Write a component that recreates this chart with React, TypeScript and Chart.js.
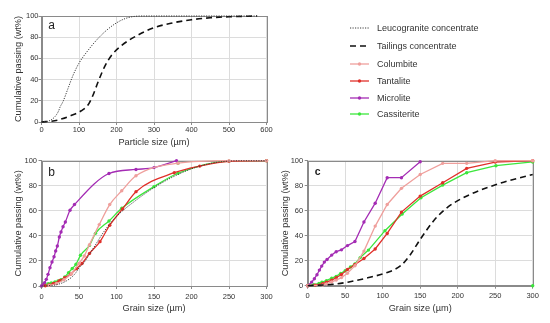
import React, { useEffect, useRef } from 'react';
import { Chart, registerables } from 'chart.js';
Chart.register(...registerables);

const FONT = "'Liberation Sans', Arial, Helvetica, sans-serif";

// ---------- Panel a (particle size, µm) ----------
const leucoSize = [0, 10, 20, 35, 45, 50, 57, 70, 84, 100, 125, 150, 175, 200, 225, 250, 275, 300, 400, 500, 575];
const leucoPass = [0, 0.3, 1, 4.7, 10, 14.5, 19, 31, 44, 55.5, 68, 78.5, 87, 93.5, 97.8, 99.7, 100, 100, 100, 100, 100];
const tailSize = [0, 35, 55, 80, 106, 124, 137, 150, 168, 186, 213, 257, 300, 350, 400, 450, 500, 575];
const tailPass = [0, 1.2, 3, 6.3, 10.6, 16, 25, 37, 52, 62.5, 72, 82, 89, 93.5, 96.5, 98.3, 99.3, 100];

// ---------- Panel b (grain size, leucogranite concentrate) ----------
const colBx = [10, 20, 30, 40, 50, 57, 64, 77, 91, 107, 126, 182, 250, 300];
const colBy = [0.5, 2, 5, 10, 18, 24, 33, 49, 65, 76, 88, 98, 100, 100];
const tanBx = [5, 10, 16, 24, 31, 39, 47, 54, 64, 78, 91, 108, 126, 177, 211, 250, 300];
const tanBy = [0.2, 0.8, 2.1, 4.3, 6.6, 9.6, 14, 18, 26, 35.4, 48.5, 61.5, 75.3, 90.4, 95.7, 99.5, 100];
const micBx = [0, 2, 4.2, 6.4, 8.7, 11.3, 14, 16.7, 18.9, 21.1, 23.8, 26, 28.7, 31.8, 38, 44, 90, 126, 150, 180];
const micBy = [0, 1, 2.7, 5.3, 9.3, 14.6, 19.1, 23.4, 27.9, 31.9, 39.1, 43.1, 47.3, 51.1, 60.4, 65, 89.8, 93, 94.5, 100];
const casBx = [0, 4, 9, 13, 18, 22, 26, 31, 36, 41, 46, 52, 64, 72, 90, 107, 150, 182, 250, 300];
const casBy = [0, 0.8, 1.9, 2.4, 3.2, 4, 5, 7.2, 10.6, 14, 17.3, 24.5, 32.4, 42, 51.9, 62, 79.3, 90, 99.7, 100];
const casBextraX = [182];
const casBextraY = [98];

// ---------- Panel c (grain size, tailings concentrate) ----------
const colCx = [0, 20, 25, 32, 38, 45, 53, 63, 75, 90, 106, 125, 150, 180, 212, 250, 300];
const colCy = [0, 0.5, 1.5, 3, 4.5, 6.5, 10, 16, 27.7, 47.7, 65, 77.9, 89, 97.9, 97.9, 100, 100];
const tanCx = [0, 10, 20, 25, 32, 38, 45, 53, 63, 75, 90, 106, 125, 150, 180, 212, 250, 300];
const tanCy = [0, 0.5, 1.6, 2.9, 4.5, 6.4, 9, 13, 17, 21.8, 29.4, 41.8, 58.9, 71.7, 82.4, 93.9, 98.9, 100];
const micCx = [0, 5.3, 8.9, 12.4, 15.6, 18.7, 22.2, 25.8, 32, 38, 45, 53, 63, 75, 90, 106, 125, 150];
const micCy = [0, 2.9, 5.6, 8.8, 12.5, 15.7, 18.9, 21, 24.5, 27.2, 28.7, 32.1, 35.4, 51, 66, 86.4, 86.4, 99.2];
const casCx = [0, 8, 15, 19, 25, 32, 38, 44, 50, 57, 63, 70, 81, 103, 126, 151, 180, 212, 251, 300];
const casCy = [0, 0.8, 1.8, 2.9, 4, 6, 7.5, 9.9, 12, 15, 17.5, 22.5, 28.5, 44, 57.3, 70.4, 80.5, 90.4, 96, 99];
const casCextraX = [300];
const casCextraY = [0];

const yTicks = { min: 0, max: 100, step: 20 };
const legendLabels = ['Leucogranite concentrate', 'Tailings concentrate', 'Columbite', 'Tantalite', 'Microlite', 'Cassiterite'];

const STY = {
  leuco: { color: '#3a3a3a', width: 1, dash: [1.2, 1.3] },
  tail: { color: '#111111', width: 1.6, dash: [6, 4] },
  col: { color: '#ef9f9c', width: 1.3 },
  tan: { color: '#e0302a', width: 1.3 },
  mic: { color: '#a42cb4', width: 1.3 },
  cas: { color: '#3ce63c', width: 1.3 },
};

const pts = (xs: number[], ys: number[], xMax: number) =>
  xs.map((x, i) => ({ x, y: ys[i] })).filter((p) => p.x <= xMax);

function ds(xs: number[], ys: number[], xMax: number, st: any, marker: boolean, smooth: boolean, showLine = true) {
  return {
    data: pts(xs, ys, xMax),
    borderColor: st.color,
    backgroundColor: st.color,
    borderWidth: st.width,
    borderDash: st.dash || [],
    pointRadius: marker ? 1.7 : 0,
    pointBorderWidth: 0,
    pointBackgroundColor: st.color,
    showLine,
    fill: false,
    cubicInterpolationMode: smooth ? 'monotone' : 'default',
    tension: 0,
    clip: 4,
  };
}

const deco = {
  id: 'deco',
  beforeDatasetsDraw(chart: any) {
    const { ctx, chartArea } = chart;
    const l = Math.round(chartArea.left) + 0.5;
    const t = Math.round(chartArea.top) + 0.5;
    const r = Math.round(chartArea.right) + 0.5;
    const b = Math.round(chartArea.bottom) + 0.5;
    ctx.save();
    ctx.strokeStyle = '#8a8a8a';
    ctx.lineWidth = 1;
    ctx.strokeRect(l, t, r - l, b - t);
    ctx.restore();
  },
  afterDraw(chart: any, _a: any, opts: any) {
    const { ctx, chartArea } = chart;
    ctx.save();
    ctx.fillStyle = '#222';
    ctx.font = `${opts.bold ? 'bold ' : ''}${opts.size}px ${FONT}`;
    ctx.textAlign = 'center';
    ctx.textBaseline = 'middle';
    ctx.fillText(opts.letter, chartArea.left + opts.dx, chartArea.top + opts.dy);
    ctx.restore();
  },
};

type Spec = {
  left: number; top: number; width: number; height: number;
  padTop: number; padRight: number; yWidth: number; xHeight: number;
  xMax: number; xStep: number; xTitle: string;
  xTickPad: number; yTickPad: number; xTitlePad: number; yTitlePad: number;
  letter: string; letterDx: number; letterDy: number; letterBold?: boolean; letterSize: number;
  datasets: any[];
};

function makeConfig(s: Spec): any {
  const tickFont = { family: FONT, size: 7.5 };
  const titleFont = { family: FONT, size: 9.2 };
  return {
    type: 'scatter',
    data: { datasets: s.datasets },
    plugins: [deco],
    options: {
      responsive: false,
      animation: false,
      events: [],
      layout: { padding: { top: s.padTop, right: s.padRight, left: 0, bottom: 0 } },
      plugins: {
        legend: { display: false },
        tooltip: { enabled: false },
        deco: { letter: s.letter, dx: s.letterDx, dy: s.letterDy, size: s.letterSize, bold: !!s.letterBold },
      },
      scales: {
        x: {
          type: 'linear', min: 0, max: s.xMax,
          afterFit: (sc: any) => { sc.height = s.xHeight; },
          ticks: { stepSize: s.xStep, font: tickFont, color: '#333', padding: s.xTickPad, maxRotation: 0, autoSkip: false },
          grid: { color: '#dcdcdc', tickLength: 3, tickColor: '#8a8a8a' },
          border: { color: '#8a8a8a' },
          title: { display: true, text: s.xTitle, font: titleFont, color: '#333', padding: { top: 0, bottom: s.xTitlePad } },
        },
        y: {
          type: 'linear', min: yTicks.min, max: yTicks.max,
          afterFit: (sc: any) => { sc.width = s.yWidth; },
          ticks: { stepSize: yTicks.step, font: tickFont, color: '#333', padding: s.yTickPad },
          grid: { color: '#dcdcdc', tickLength: 3, tickColor: '#8a8a8a' },
          border: { color: '#8a8a8a' },
          title: { display: true, text: 'Cumulative passing (wt%)', font: titleFont, color: '#333', padding: { top: s.yTitlePad, bottom: 0 } },
        },
      },
    },
  };
}

function Panel({ spec }: { spec: Spec }) {
  const ref = useRef<HTMLCanvasElement>(null);
  useEffect(() => {
    const chart = new Chart(ref.current as HTMLCanvasElement, makeConfig(spec));
    return () => chart.destroy();
  }, []);
  return (
    <canvas
      ref={ref}
      width={spec.width}
      height={spec.height}
      style={{ position: 'absolute', left: spec.left, top: spec.top, width: spec.width, height: spec.height }}
    />
  );
}

const specA: Spec = {
  left: 0, top: 0, width: 280, height: 152,
  padTop: 16, padRight: 13.5, yWidth: 41.5, xHeight: 30,
  xMax: 600, xStep: 100, xTitle: 'Particle size (µm)',
  xTickPad: 0, yTickPad: 0, xTitlePad: 3.6, yTitlePad: 12.6,
  letter: 'a', letterDx: 10.2, letterDy: 10, letterSize: 12,
  datasets: [
    ds(leucoSize, leucoPass, 600, STY.leuco, false, true),
    ds(tailSize, tailPass, 600, STY.tail, false, true),
  ],
};

const specB: Spec = {
  left: 0, top: 150, width: 280, height: 173,
  padTop: 10.7, padRight: 13.5, yWidth: 41.5, xHeight: 37,
  xMax: 300, xStep: 50, xTitle: 'Grain size (µm)',
  xTickPad: 3, yTickPad: 1.5, xTitlePad: 9.3, yTitlePad: 12.6,
  letter: 'b', letterDx: 10.2, letterDy: 12.4, letterSize: 12,
  datasets: [
    ds(leucoSize, leucoPass, 300, STY.leuco, false, true),
    ds(colBx, colBy, 300, STY.col, true, true),
    ds(tanBx, tanBy, 300, STY.tan, true, true),
    ds(micBx, micBy, 300, STY.mic, true, true),
    ds(casBx, casBy, 300, STY.cas, true, true),
    ds(casBextraX, casBextraY, 300, STY.cas, true, false, false),
  ],
};

const specC: Spec = {
  left: 268, top: 150, width: 282, height: 173,
  padTop: 10.7, padRight: 17.3, yWidth: 39.7, xHeight: 37.3,
  xMax: 300, xStep: 50, xTitle: 'Grain size (µm)',
  xTickPad: 3, yTickPad: 1.5, xTitlePad: 9.3, yTitlePad: 11.6,
  letter: 'c', letterDx: 10, letterDy: 11, letterBold: true, letterSize: 10.5,
  datasets: [
    ds(tailSize, tailPass, 300, STY.tail, false, true),
    ds(colCx, colCy, 300, STY.col, true, false),
    ds(tanCx, tanCy, 300, STY.tan, true, false),
    ds(micCx, micCy, 300, STY.mic, true, false),
    ds(casCx, casCy, 300, STY.cas, true, false),
    ds(casCextraX, casCextraY, 300, STY.cas, true, false, false),
  ],
};

const legendStyles = [STY.leuco, STY.tail, STY.col, STY.tan, STY.mic, STY.cas];
const legendRowsY = [28.3, 46, 64.3, 80.5, 97.5, 114];

function Legend() {
  return (
    <div style={{ position: 'absolute', left: 0, top: 0, width: 550, height: 140, pointerEvents: 'none' }}>
      {legendLabels.map((lab, i) => {
        const st: any = legendStyles[i];
        const marker = i >= 2;
        return (
          <div key={lab} style={{ position: 'absolute', left: 348, top: legendRowsY[i] - 6, height: 12, width: 200 }}>
            <svg width={24} height={12} style={{ position: 'absolute', left: 0, top: 0 }}>
              <line x1={2} y1={6} x2={21} y2={6} stroke={st.color} strokeWidth={st.width}
                strokeDasharray={st.dash ? st.dash.join(' ') : undefined} />
              {marker && <circle cx={11.5} cy={6} r={1.7} fill={st.color} />}
            </svg>
            <span style={{ position: 'absolute', left: 29, top: 0, lineHeight: '12px', fontSize: 9, fontFamily: FONT, color: '#333', whiteSpace: 'nowrap' }}>{lab}</span>
          </div>
        );
      })}
    </div>
  );
}

export default function App() {
  return (
    <div style={{ position: 'absolute', left: 0, top: 0, width: 550, height: 323, background: '#fff', overflow: 'hidden' }}>
      <Panel spec={specA} />
      <Panel spec={specB} />
      <Panel spec={specC} />
      <Legend />
    </div>
  );
}
